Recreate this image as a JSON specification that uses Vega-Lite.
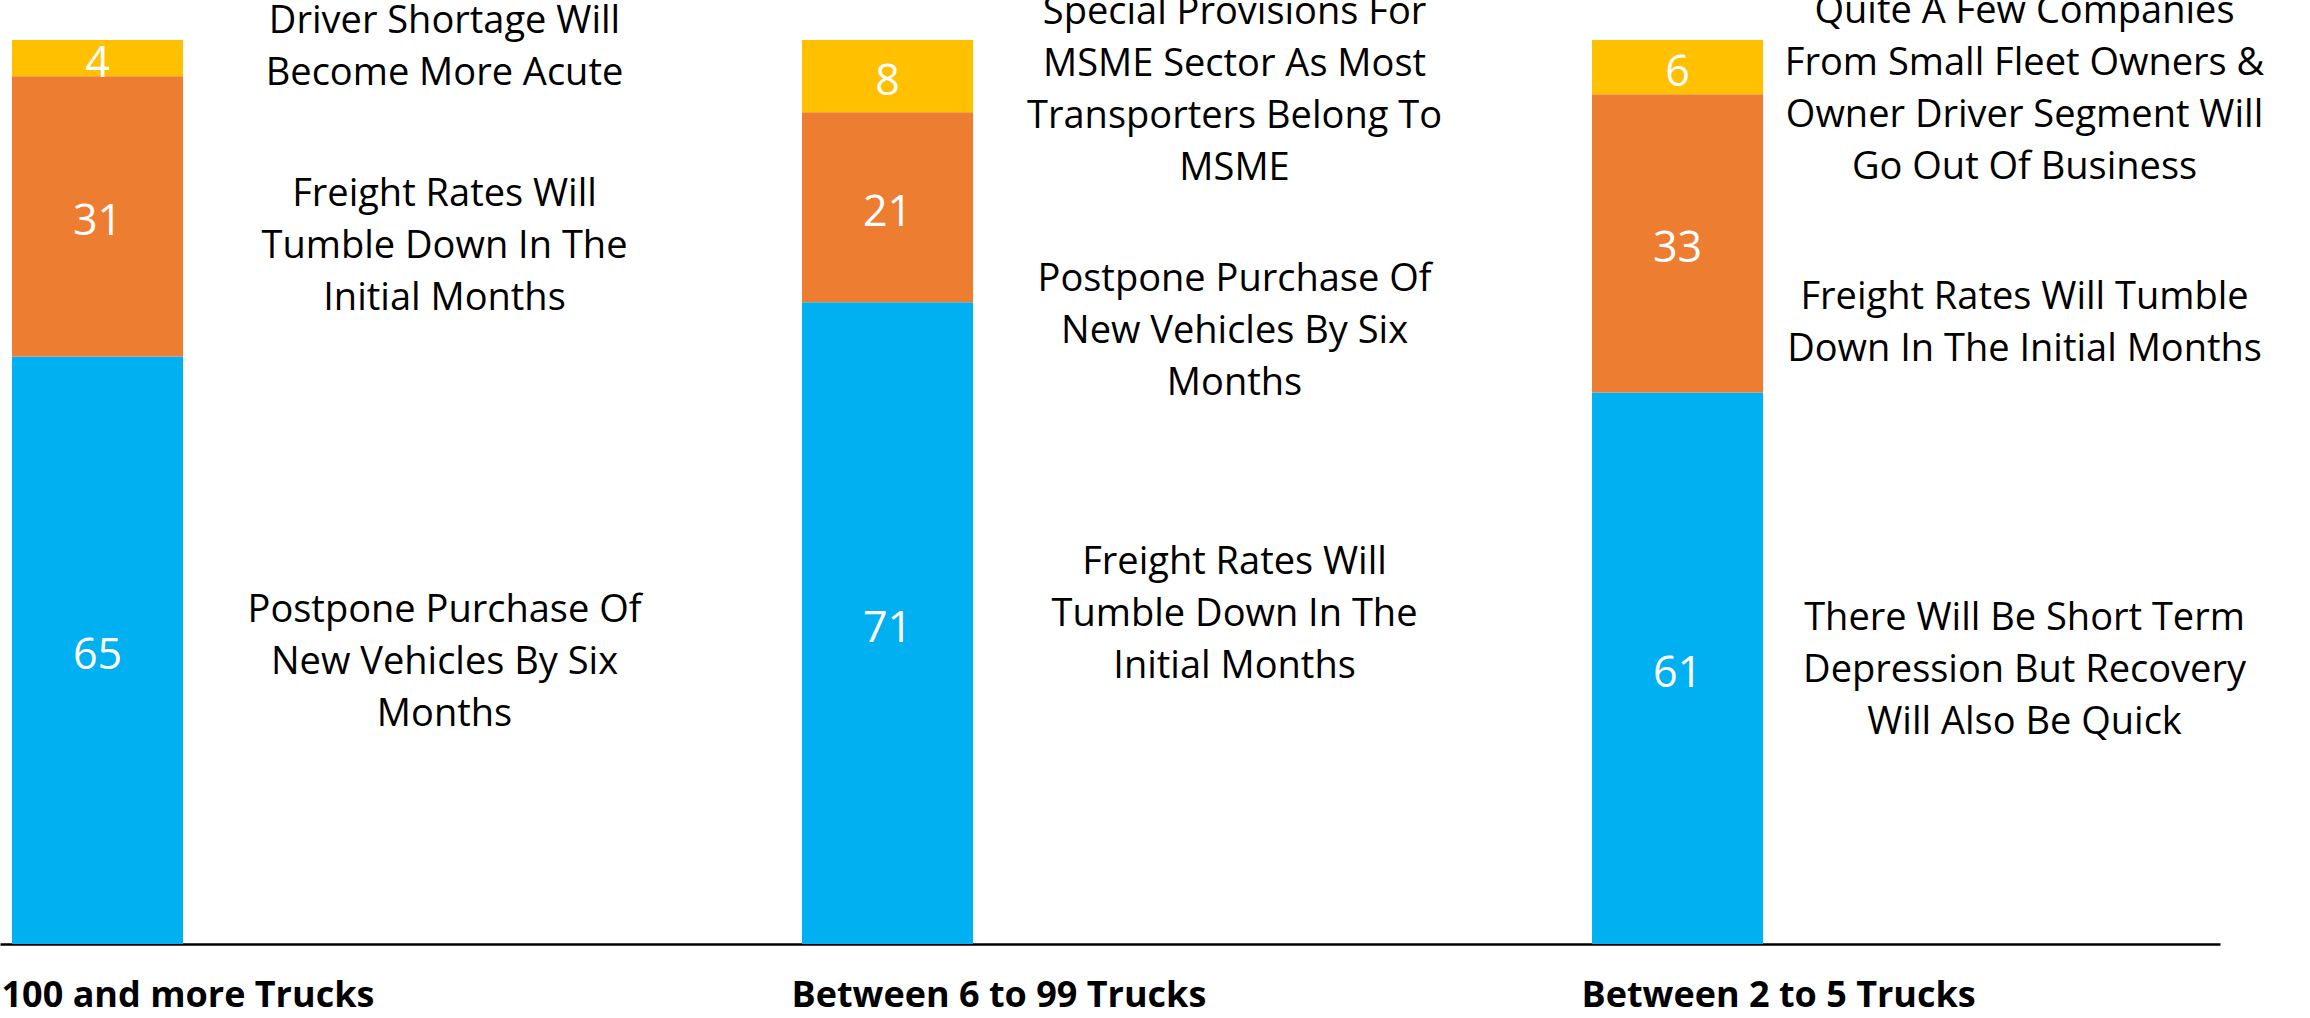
{
  "$schema": "https://vega.github.io/schema/vega-lite/v6.json",
  "width": 2220,
  "height": 904,
  "autosize": {"type": "none"},
  "padding": {"left": 0, "right": 90, "top": 40, "bottom": 74},
  "background": "white",
  "config": {"view": {"stroke": null}},
  "data": {"values": [
    {"group": "100 and more Trucks", "series": "Rank 1", "value": 65, "note": ["Postpone Purchase Of", "New Vehicles By Six", "Months"], "at": 36.8},
    {"group": "100 and more Trucks", "series": "Rank 2", "value": 31, "note": ["Freight Rates Will", "Tumble Down In The", "Initial Months"], "at": 82.8},
    {"group": "100 and more Trucks", "series": "Rank 3", "value": 4, "note": ["Driver Shortage Will", "Become More Acute"], "at": 101.95},
    {"group": "Between 6 to 99 Trucks", "series": "Rank 1", "value": 71, "note": ["Freight Rates Will", "Tumble Down In The", "Initial Months"], "at": 42.1},
    {"group": "Between 6 to 99 Trucks", "series": "Rank 2", "value": 21, "note": ["Postpone Purchase Of", "New Vehicles By Six", "Months"], "at": 73.4},
    {"group": "Between 6 to 99 Trucks", "series": "Rank 3", "value": 8, "note": ["Special Provisions For", "MSME Sector As Most", "Transporters Belong To", "MSME"], "at": 103.0},
    {"group": "Between 2 to 5 Trucks", "series": "Rank 1", "value": 61, "note": ["There Will Be Short Term", "Depression But Recovery", "Will Also Be Quick"], "at": 36.0},
    {"group": "Between 2 to 5 Trucks", "series": "Rank 2", "value": 33, "note": ["Freight Rates Will Tumble", "Down In The Initial Months"], "at": 71.5},
    {"group": "Between 2 to 5 Trucks", "series": "Rank 3", "value": 6, "note": ["Quite A Few Companies", "From Small Fleet Owners &", "Owner Driver Segment Will", "Go Out Of Business"], "at": 103.1}
  ]},
  "transform": [
    {"stack": "value", "groupby": ["group"], "sort": [{"field": "series", "order": "ascending"}], "as": ["v0", "v1"]},
    {"calculate": "(datum.v0 + datum.v1) / 2", "as": "mid"}
  ],
  "encoding": {
    "x": {
      "field": "group", "type": "nominal",
      "sort": ["100 and more Trucks", "Between 6 to 99 Trucks", "Between 2 to 5 Trucks"],
      "scale": {"paddingInner": 0.7835, "paddingOuter": 0.2968, "align": 0.0256, "round": false},
      "axis": {
        "title": null, "labelAngle": 0, "labelAlign": "left", "labelOffset": -96,
        "labelFont": "Open Sans", "labelFontWeight": "bold", "labelFontSize": 36, "labelColor": "#000000",
        "labelPadding": 34, "labelLimit": 0, "ticks": false, "domainColor": "#000000", "domainWidth": 2.5,
        "labelOverlap": false, "labelBound": false, "grid": false
      }
    }
  },
  "layer": [
    {
      "mark": {"type": "bar"},
      "encoding": {
        "y": {"field": "v0", "type": "quantitative", "scale": {"domain": [0, 100], "nice": false, "zero": true}, "axis": null},
        "y2": {"field": "v1"},
        "color": {"field": "series", "type": "nominal", "scale": {"domain": ["Rank 1", "Rank 2", "Rank 3"], "range": ["#00B0F0", "#ED7D31", "#FFC000"]}, "legend": null}
      }
    },
    {
      "mark": {"type": "text", "font": "Open Sans", "fontSize": 43, "color": "#FFFFFF", "baseline": "middle", "align": "center", "dy": 6},
      "encoding": {
        "y": {"field": "mid", "type": "quantitative"},
        "text": {"field": "value", "type": "quantitative"}
      }
    },
    {
      "mark": {"type": "text", "font": "Open Sans", "fontSize": 38, "color": "#000000", "baseline": "middle", "align": "center", "lineHeight": 52, "dx": 347},
      "encoding": {
        "y": {"field": "at", "type": "quantitative"},
        "text": {"field": "note"}
      }
    }
  ]
}
